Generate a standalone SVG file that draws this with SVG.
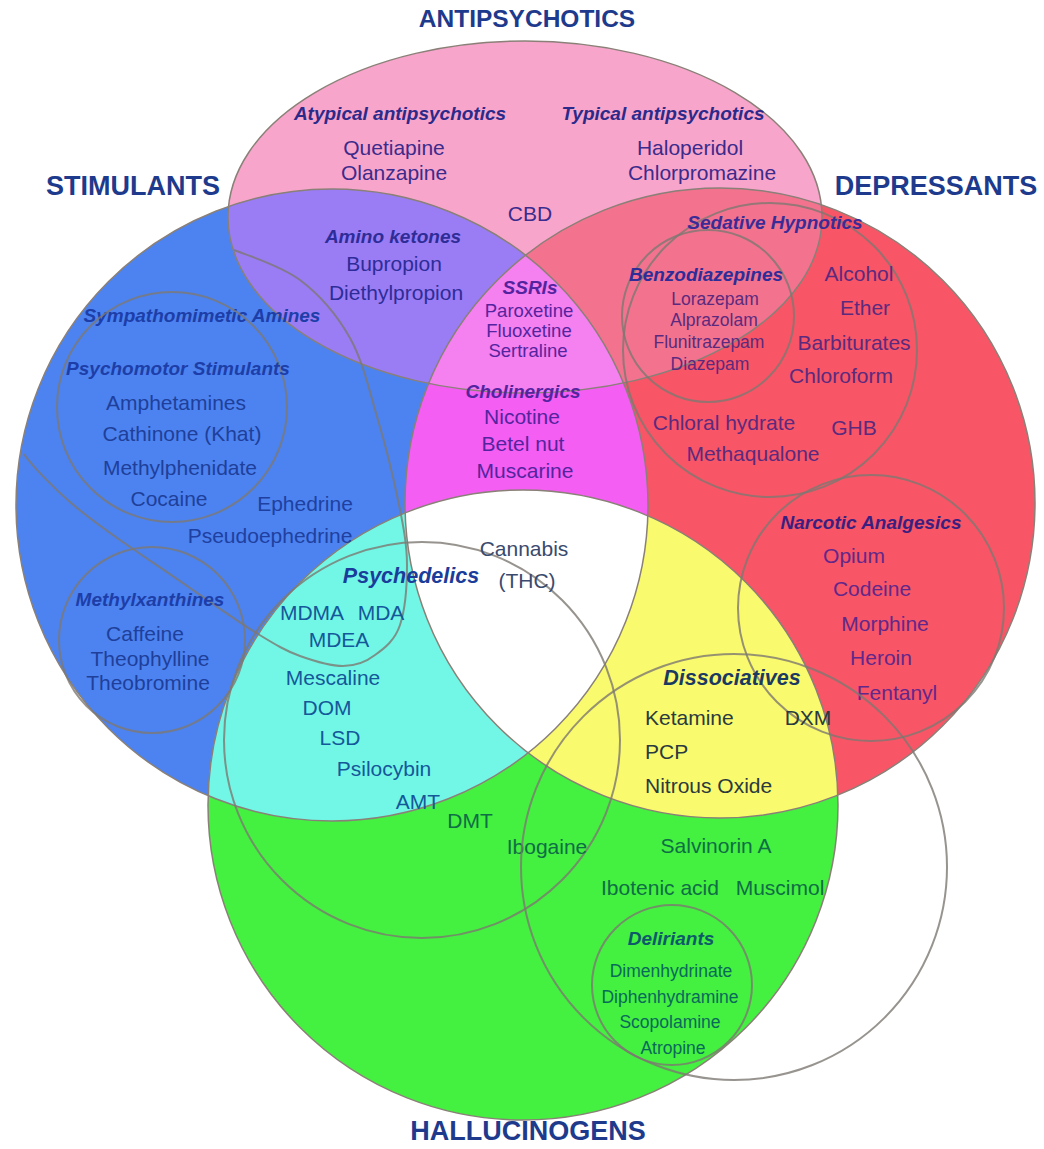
<svg xmlns="http://www.w3.org/2000/svg" width="1044" height="1149" viewBox="0 0 1044 1149">
<defs>
<clipPath id="cBlue"><circle cx="332" cy="505" r="316"/></clipPath>
<clipPath id="cRed"><circle cx="720" cy="503" r="315"/></clipPath>
</defs>
<style>
text{font-family:"Liberation Sans",Arial,Helvetica,sans-serif;text-anchor:middle;dominant-baseline:central}
.ttl{font-size:27px;font-weight:bold;fill:#1e3a8c}
.lab{font-size:19px;font-weight:bold;font-style:italic}
.big{font-size:21.5px}
.it{font-size:21px}
.sm{font-size:17.5px}
.md{font-size:18.5px}
.edge{fill:none;stroke:#8a8078;stroke-width:1.5}
.sub{fill:none;stroke:#7d7872;stroke-width:2;stroke-opacity:.8}
.st{text-anchor:start}
</style>
<rect width="1044" height="1149" fill="#ffffff"/>

<g id="fills">
  <ellipse cx="525" cy="217" rx="297" ry="176" fill="#f8a5cb"/>
  <circle cx="332" cy="505" r="316" fill="#4c83f0"/>
  <circle cx="720" cy="503" r="315" fill="#f85666"/>
  <circle cx="523" cy="805" r="315" fill="#44f040"/>
  <g clip-path="url(#cBlue)">
    <circle cx="720" cy="503" r="315" fill="#f45ef2"/>
    <circle cx="523" cy="805" r="315" fill="#72f7e6"/>
    <ellipse cx="525" cy="217" rx="297" ry="176" fill="#9a7cf4"/>
  </g>
  <g clip-path="url(#cRed)">
    <circle cx="523" cy="805" r="315" fill="#fafa6e"/>
    <ellipse cx="525" cy="217" rx="297" ry="176" fill="#f3738f"/>
  </g>
  <g clip-path="url(#cBlue)"><g clip-path="url(#cRed)">
    <circle cx="523" cy="805" r="315" fill="#ffffff"/>
    <ellipse cx="525" cy="217" rx="297" ry="176" fill="#f580ef"/>
  </g></g>
</g>

<g id="outlines">
  <ellipse class="edge" cx="525" cy="217" rx="297" ry="176"/>
  <circle class="edge" cx="332" cy="505" r="316"/>
  <circle class="edge" cx="720" cy="503" r="315"/>
  <circle class="edge" cx="523" cy="805" r="315"/>
</g>

<g id="connectors"></g>

<g id="antipsychotics">
  <text class="ttl" x="527" y="18" style="font-size:24.5px">ANTIPSYCHOTICS</text>
  <g id="atypical" fill="#3b2b8c">
    <text class="lab" x="400" y="113" fill="#2b2a8a">Atypical antipsychotics</text>
    <text class="it" x="394" y="147">Quetiapine</text>
    <text class="it" x="394" y="172">Olanzapine</text>
  </g>
  <g id="typical" fill="#3b2b8c">
    <text class="lab" x="663" y="113" fill="#2b2a8a">Typical antipsychotics</text>
    <text class="it" x="690" y="147">Haloperidol</text>
    <text class="it" x="702" y="172">Chlorpromazine</text>
  </g>
  <text class="it" x="530" y="213" fill="#3b2b8c">CBD</text>
  <g id="amino-ketones" fill="#2e2c98">
    <text class="lab" x="393" y="236">Amino ketones</text>
    <text class="it" x="394" y="263">Bupropion</text>
    <text class="it" x="396" y="292">Diethylpropion</text>
  </g>
  <g id="ssris" fill="#5424a0">
    <text class="lab" x="530" y="287">SSRIs</text>
    <text class="md" x="529" y="310">Paroxetine</text>
    <text class="md" x="529" y="330">Fluoxetine</text>
    <text class="md" x="528" y="350">Sertraline</text>
  </g>
</g>

<g id="stimulants">
  <text class="ttl" x="133" y="186">STIMULANTS</text>
  <g id="sympathomimetic-amines">
    <path class="sub" d="M234,250 C246,255 280,265 300,280 C320,295 337,315 350,338 C363,361 370,393 378,420 C386,447 393,476 398,500 C403,524 407,544 407,565 C407,586 405,610 400,625 C395,640 385,648 375,655 C366,662 356,666 343,666 C331,666 314,661 300,656 C286,651 276,645 258,634 C240,623 213,604 190,588 C167,572 140,554 120,540 C100,526 85,515 70,502 C55,489 32,466 24,454"/>
    <text class="lab" x="202" y="315" fill="#1d3ea8">Sympathomimetic Amines</text>
    <text class="it" x="305" y="503" fill="#1f40a0">Ephedrine</text>
    <text class="it" x="270" y="535" fill="#1f40a0">Pseudoephedrine</text>
  </g>
  <g id="psychomotor-stimulants" fill="#1f3f9a">
    <circle class="sub" cx="172" cy="407" r="115"/>
    <text class="lab" x="178" y="368" fill="#1d3ea8">Psychomotor Stimulants</text>
    <text class="it" x="176" y="402">Amphetamines</text>
    <text class="it" x="182" y="433">Cathinone (Khat)</text>
    <text class="it" x="180" y="467">Methylphenidate</text>
    <text class="it" x="169" y="498">Cocaine</text>
  </g>
  <g id="methylxanthines" fill="#1f3f9a">
    <circle class="sub" cx="152" cy="640" r="93"/>
    <text class="lab" x="150" y="599" fill="#1d3ea8">Methylxanthines</text>
    <text class="it" x="145" y="633">Caffeine</text>
    <text class="it" x="150" y="658">Theophylline</text>
    <text class="it" x="148" y="682">Theobromine</text>
  </g>
  <g id="cholinergics" fill="#5424a0">
    <text class="lab" x="523" y="391">Cholinergics</text>
    <text class="it" x="522" y="416">Nicotine</text>
    <text class="it" x="523" y="443">Betel nut</text>
    <text class="it" x="525" y="470">Muscarine</text>
  </g>
</g>

<g id="depressants">
  <text class="ttl" x="936" y="186">DEPRESSANTS</text>
  <g id="sedative-hypnotics" fill="#5b2a7e">
    <circle class="sub" cx="770" cy="350" r="147"/>
    <text class="lab" x="775" y="222" fill="#3a2c96">Sedative Hypnotics</text>
    <text class="it" x="859" y="273">Alcohol</text>
    <text class="it" x="865" y="307">Ether</text>
    <text class="it" x="854" y="342">Barbiturates</text>
    <text class="it" x="841" y="375">Chloroform</text>
    <text class="it" x="724" y="422">Chloral hydrate</text>
    <text class="it" x="854" y="427">GHB</text>
    <text class="it" x="753" y="453">Methaqualone</text>
  </g>
  <g id="benzodiazepines" fill="#5b2a7e">
    <circle class="sub" cx="708" cy="316" r="86"/>
    <text class="lab" x="706" y="274" fill="#2e2c98">Benzodiazepines</text>
    <text class="sm" x="715" y="299">Lorazepam</text>
    <text class="sm" x="714" y="320">Alprazolam</text>
    <text class="sm" x="709" y="342">Flunitrazepam</text>
    <text class="sm" x="710" y="364">Diazepam</text>
  </g>
  <g id="narcotic-analgesics" fill="#62278a">
    <circle class="sub" cx="871" cy="608" r="133"/>
    <text class="lab" x="871" y="522" fill="#3a1f80">Narcotic Analgesics</text>
    <text class="it" x="854" y="555">Opium</text>
    <text class="it" x="872" y="588">Codeine</text>
    <text class="it" x="885" y="623">Morphine</text>
    <text class="it" x="881" y="657">Heroin</text>
    <text class="it" x="897" y="692">Fentanyl</text>
  </g>
</g>

<g id="hallucinogens">
  <text class="ttl" x="528" y="1131">HALLUCINOGENS</text>
  <g id="psychedelics" fill="#15589a">
    <circle class="sub" cx="422" cy="740" r="198"/>
    <text class="lab big" x="411" y="576" fill="#1a3c9a">Psychedelics</text>
    <text class="it" x="312" y="612">MDMA</text>
    <text class="it" x="381" y="612">MDA</text>
    <text class="it" x="339" y="639">MDEA</text>
    <text class="it" x="333" y="677">Mescaline</text>
    <text class="it" x="327" y="707">DOM</text>
    <text class="it" x="340" y="737">LSD</text>
    <text class="it" x="384" y="768">Psilocybin</text>
    <text class="it" x="418" y="801">AMT</text>
  </g>
  <g id="cannabis" fill="#3a4a6e">
    <text class="it" x="524" y="548">Cannabis</text>
    <text class="it" x="527" y="580">(THC)</text>
  </g>
  <g id="other-hallucinogens" fill="#0f6e45">
    <text class="it" x="470" y="820">DMT</text>
    <text class="it" x="547" y="846">Ibogaine</text>
    <text class="it" x="716" y="845">Salvinorin A</text>
    <text class="it" x="660" y="887">Ibotenic acid</text>
    <text class="it" x="780" y="887">Muscimol</text>
  </g>
  <g id="dissociatives" fill="#2a3a3e">
    <circle class="sub" cx="734" cy="867" r="213"/>
    <text class="lab big" x="732" y="678" fill="#1a3a62">Dissociatives</text>
    <text class="it st" x="645" y="717">Ketamine</text>
    <text class="it st" x="645" y="751">PCP</text>
    <text class="it st" x="645" y="785">Nitrous Oxide</text>
    <text class="it" x="808" y="717">DXM</text>
  </g>
  <g id="deliriants" fill="#0a6a5a">
    <circle class="sub" cx="672" cy="985" r="80"/>
    <text class="lab" x="671" y="938" fill="#0e5a6a">Deliriants</text>
    <text class="sm" x="671" y="971">Dimenhydrinate</text>
    <text class="sm" x="670" y="997">Diphenhydramine</text>
    <text class="sm" x="670" y="1022">Scopolamine</text>
    <text class="sm" x="673" y="1048">Atropine</text>
  </g>
</g>
</svg>
